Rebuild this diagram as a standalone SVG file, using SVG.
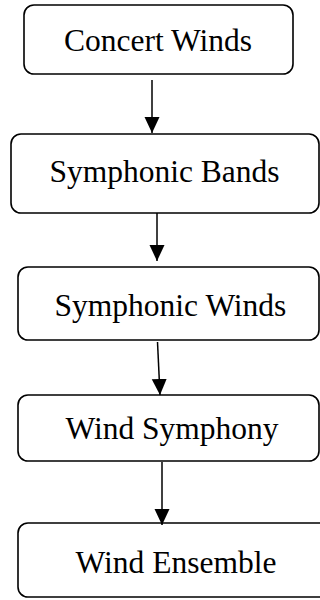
<svg xmlns="http://www.w3.org/2000/svg" width="320" height="600" viewBox="0 0 320 600">
<defs>
<style>
.box{fill:#fff;stroke:#000;stroke-width:1.6}
.lbl{font-family:"Liberation Serif","Times New Roman",serif;font-size:31.5px;fill:#000;text-anchor:middle}
.edge{stroke:#000;stroke-width:1.5;fill:none}
</style>
<marker id="ah" markerWidth="16" markerHeight="16" refX="16" refY="8" orient="auto" markerUnits="userSpaceOnUse" viewBox="0 0 16 16">
<path d="M0,0.5 L16,8 L0,15.5 Z" fill="#000"/>
</marker>
</defs>
<rect width="320" height="600" fill="#fff"/>
<g id="n1"><rect class="box" x="24" y="5" width="269" height="69" rx="10"/><text class="lbl" x="158" y="51">Concert Winds</text></g>
<g id="n2"><rect class="box" x="11" y="134" width="308" height="79" rx="10"/><text class="lbl" x="164.5" y="182">Symphonic Bands</text></g>
<g id="n3"><rect class="box" x="18" y="267" width="301" height="73" rx="10"/><text class="lbl" x="170.5" y="316">Symphonic Winds</text></g>
<g id="n4"><rect class="box" x="18" y="395" width="301" height="66" rx="10"/><text class="lbl" x="172" y="439">Wind Symphony</text></g>
<g id="n5"><rect class="box" x="18" y="523" width="316" height="74" rx="10"/><text class="lbl" x="176" y="573">Wind Ensemble</text></g>
<g id="edges">
<line class="edge" x1="152" y1="80" x2="152" y2="133" marker-end="url(#ah)"/>
<line class="edge" x1="157" y1="213" x2="157" y2="261" marker-end="url(#ah)"/>
<line class="edge" x1="157.5" y1="342" x2="160" y2="395" marker-end="url(#ah)"/>
<line class="edge" x1="162" y1="462" x2="162" y2="525" marker-end="url(#ah)"/>
</g>
</svg>
